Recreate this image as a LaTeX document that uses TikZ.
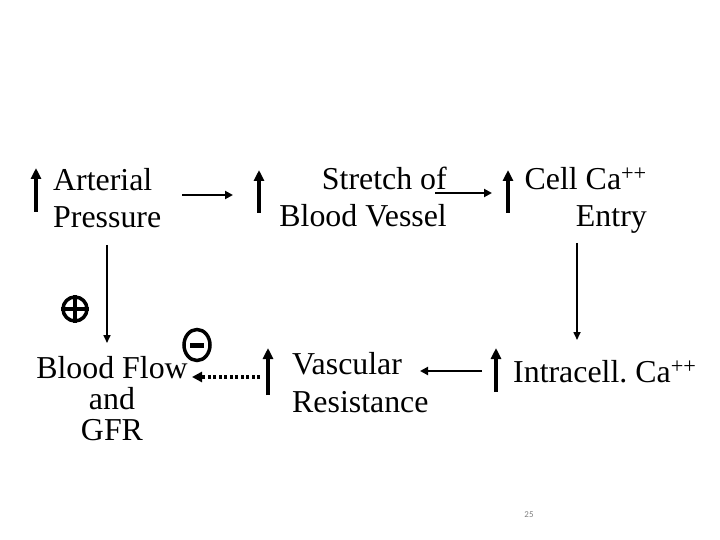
\documentclass[tikz,border=0pt]{standalone}
\usepackage{fontspec}
\setmainfont{Liberation Serif}
\newfontfamily\numfont{Carlito}
\usetikzlibrary{arrows.meta, shapes.geometric}

\begin{document}
\begin{tikzpicture}[x=1bp, y=-1bp,
    lbl/.style={inner sep=0pt, font=\fontsize{32}{38}\selectfont},
    rise/.style={-{Triangle[length=11bp, width=10bp]}, line width=3.5bp},
    link/.style={-{Triangle[length=8bp, width=8bp]}, line width=2.5bp},
    drop/.style={-{Triangle[length=8bp, width=7bp]}, line width=1.6bp},
    damp/.style={-{Triangle[length=10bp, width=10bp]}, line width=4bp,
      dash pattern=on 3bp off 2.5bp},
    sign/.style={draw, line width=3.5bp, inner sep=0pt}]

  \useasboundingbox (0,0) rectangle (720,540);

  % texts (base = last line)
  \node[lbl, anchor=base west, align=left]  (ap) at (53,228)  {Arterial\\Pressure};
  \node[lbl, anchor=base east, align=right] (sv) at (447,227) {Stretch of\\Blood Vessel};
  \node[lbl, anchor=base east, align=right] (ce) at (647,227) {Cell Ca\textsuperscript{++}\\Entry};
  \node[lbl, anchor=base, align=center, font=\fontsize{32}{31}\selectfont]
    (bf) at (112,440) {Blood Flow\\and\\GFR};
  \node[lbl, anchor=base west, align=left]  (vr) at (292,412) {Vascular\\Resistance};
  \node[lbl, anchor=base west]              (ic) at (513,382) {Intracell.\ Ca\textsuperscript{++}};

  % rising markers
  \draw[rise] (36,212) -- (36,168);
  \draw[rise] (259,213) -- (259,170);
  \draw[rise] (508,213) -- (508,170);
  \draw[rise] (268,395) -- (268,348);
  \draw[rise] (496,392) -- (496,348);

  % arrow ends
  \coordinate (ap-out) at (182,195);
  \coordinate (sv-in)  at (233,195);
  \coordinate (sv-out) at (435,193);
  \coordinate (ce-in)  at (492,193);
  \coordinate (ce-out) at (577,243);
  \coordinate (ic-in)  at (577,340);
  \coordinate (ic-out) at (482,371);
  \coordinate (vr-in)  at (420,371);
  \coordinate (vr-out) at (260,377);
  \coordinate (bf-in)  at (192,377);
  \coordinate (ap-dn)  at (107,245);
  \coordinate (bf-top) at (107,343);

  \draw[link] (ap-out) -- (sv-in);
  \draw[link] (sv-out) -- (ce-in);
  \draw[drop] (ce-out) -- (ic-in);
  \draw[link] (ic-out) -- (vr-in);
  \draw[damp] (vr-out) -- (bf-in);
  \draw[drop] (ap-dn) -- (bf-top);

  % signs
  \node[sign, circle, minimum size=24bp] (plus) at (75,309) {};
  \draw[line width=3.5bp] (plus.north) -- (plus.south) (plus.west) -- (plus.east);
  \node[sign, ellipse, minimum width=26bp, minimum height=31bp] (minus) at (197,345) {};
  \draw[line width=5bp] ([xshift=-7bp]minus.center) -- ([xshift=7bp]minus.center);

  \node[inner sep=0pt, text=gray, font=\numfont\fontsize{9}{9}\selectfont] (pg) at (529,515) {25};
\end{tikzpicture}
\end{document}
